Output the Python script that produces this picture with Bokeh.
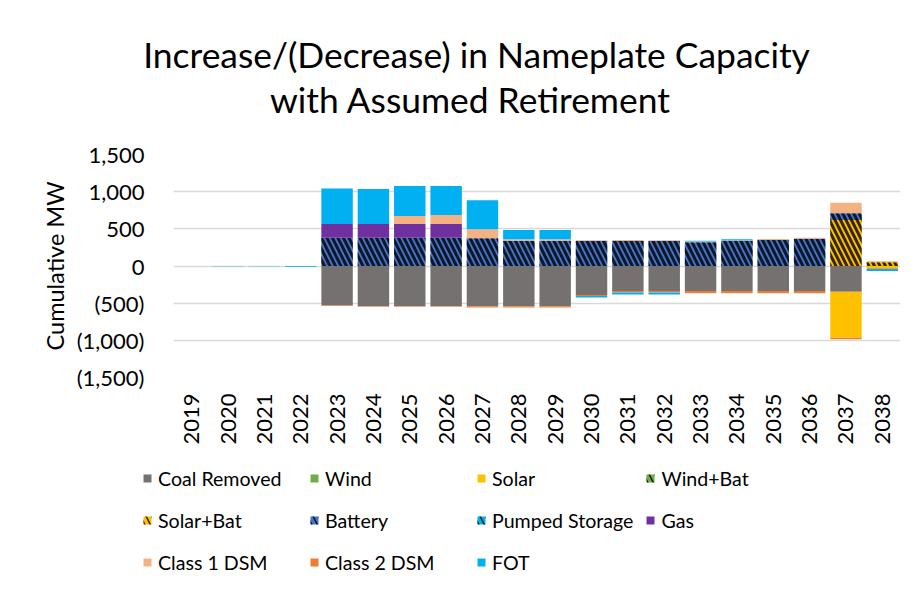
import numpy as np
from bokeh.plotting import figure
from bokeh.models import (ColumnDataSource, FactorRange, FixedTicker, Legend,
                          LegendItem, Label)
from bokeh.embed import file_html
from bokeh.resources import INLINE
import math

# ---------------- data ----------------
years = [str(y) for y in range(2019, 2039)]

coal_removed = [0, 0, 0, 0, -530, -540, -540, -540, -540, -540, -540, -390,
                -336, -336, -336, -336, -336, -336, -345, 0]
wind = [0] * 20
solar = [0] * 18 + [-620, -30]
wind_bat = [0] * 20
solar_bat = [0] * 18 + [618, 50]
battery = [0, 0, 0, 0, 380, 380, 380, 380, 375, 340, 340, 336, 336, 336,
           318, 340, 350, 366, 90, 0]
pumped_storage = [0] * 20
gas = [0, 0, 0, 0, 184, 184, 184, 184, 0, 0, 0, 0, 0, 0, 0, 0, 0, 0, 0, 0]
class1_dsm = [0, 0, 0, 0, 0, 0, 108, 121, 121, 20, 20, 10, 15, 12, 10, 8,
              13, 15, 143, 15]
class2_dsm = [0, 0, 0, 0, -8, -8, -8, -8, -18, -18, -18, -15, -22, -22,
              -30, -30, -30, -30, -20, -12]
fot = [0, -3, -3, -10, 480, 471, 403, 390, 390, 125, 125, -18, -25, -25,
       12, 12, 0, 0, 0, -25]

series_names = ["Coal Removed", "Wind", "Solar", "Wind+Bat", "Solar+Bat",
                "Battery", "Pumped Storage", "Gas", "Class 1 DSM",
                "Class 2 DSM", "FOT"]
series_values = [coal_removed, wind, solar, wind_bat, solar_bat, battery,
                 pumped_storage, gas, class1_dsm, class2_dsm, fot]
series_colors = ["#767171", "#70AD47", "#FFC000", "#70AD47", "#FFC000",
                 "#4472C4", "#00B0F0", "#7030A0", "#F4B183", "#ED7D31",
                 "#00B0F0"]
series_hatched = [False, False, False, True, True, True, True, False, False,
                  False, False]

y_ticks = [-1500, -1000, -500, 0, 500, 1000, 1500]
y_tick_labels = ["(1,500)", "(1,000)", "(500)", "0", "500", "1,000", "1,500"]

title_lines = ["Increase/(Decrease) in Nameplate Capacity",
               "with Assumed Retirement"]
y_label = "Cumulative MW"

FONT = "Lato"
TXT = "#000000"


def bar_style(color, hatched, weight=3.0):
    kw = dict(fill_color=color, line_color=None)
    if hatched:
        kw.update(hatch_pattern="\\", hatch_color="black", hatch_scale=11,
                  hatch_weight=weight, hatch_alpha=0.8)
    return kw


def blank_figure(height, **kw):
    f = figure(width=919, height=height, output_backend="svg",
               toolbar_location=None, x_axis_location=None,
               y_axis_location=None, min_border_left=0, min_border_right=0,
               min_border_top=0, min_border_bottom=0, **kw)
    f.outline_line_color = None
    f.grid.grid_line_color = None
    f.background_fill_color = "white"
    f.border_fill_color = "white"
    return f


# ---------------- title strip ----------------
t = blank_figure(130, x_range=(0, 1), y_range=(0, 1))
for txt, xx, yy in zip(title_lines, [476, 470], [76, 31]):
    t.add_layout(Label(x=xx, y=yy, x_units="screen", y_units="screen",
                       text=txt, text_align="center", text_baseline="middle",
                       text_font=FONT, text_font_size="35.4px",
                       text_color=TXT))

# ---------------- main chart ----------------
p = figure(width=919, height=325, x_range=FactorRange(*years),
           y_range=(-1500, 1500), output_backend="svg",
           toolbar_location=None,
           min_border_left=173, min_border_right=19, min_border_top=24,
           min_border_bottom=78)
p.outline_line_color = None
p.background_fill_color = "white"
p.border_fill_color = "white"

p.xgrid.grid_line_color = None
p.ygrid.grid_line_color = "#d9d9d9"
p.ygrid.grid_line_width = 1.3

p.yaxis.ticker = FixedTicker(ticks=y_ticks)
p.yaxis.major_label_overrides = dict(zip(y_ticks, y_tick_labels))
p.yaxis.axis_line_color = None
p.yaxis.major_tick_line_color = None
p.yaxis.minor_tick_line_color = None
p.yaxis.major_label_text_font = FONT
p.yaxis.major_label_text_font_size = "22px"
p.yaxis.major_label_text_color = TXT
p.yaxis.major_label_standoff = 23
p.yaxis.axis_label = y_label
p.yaxis.axis_label_text_font = FONT
p.yaxis.axis_label_text_font_size = "23.5px"
p.yaxis.axis_label_text_font_style = "normal"
p.yaxis.axis_label_text_color = TXT
p.yaxis.axis_label_standoff = 5

p.xaxis.axis_line_color = None
p.xaxis.major_tick_line_color = None
p.xaxis.minor_tick_line_color = None
p.xaxis.major_label_orientation = math.pi / 2
p.xaxis.major_label_text_font = FONT
p.xaxis.major_label_text_font_size = "22px"
p.xaxis.major_label_text_color = TXT
p.xaxis.major_label_standoff = 10

# stacked bars: positive and negative values stacked separately
n = len(years)
pos = np.zeros(n)
neg = np.zeros(n)
sources = []
for name, vals, color, hatched in zip(series_names, series_values,
                                      series_colors, series_hatched):
    v = np.array(vals, dtype=float)
    bottom = np.where(v >= 0, pos, neg)
    top = bottom + v
    pos = np.where(v >= 0, top, pos)
    neg = np.where(v < 0, top, neg)
    src = ColumnDataSource(dict(x=years, bottom=bottom, top=top))
    sources.append(src)
    p.vbar(x="x", bottom="bottom", top="top", width=0.865, source=src,
           **bar_style(color, hatched))

# ---------------- legend strip ----------------
# legend renderers share the chart's data but sit outside this strip's view
lg = blank_figure(135, x_range=FactorRange(*years), y_range=(90000, 90001))
items = []
for name, color, hatched, src in zip(series_names, series_colors,
                                     series_hatched, sources):
    r = lg.vbar(x="x", bottom="bottom", top="top", width=0.865, source=src,
                **bar_style(color, hatched, weight=1.6))
    items.append(LegendItem(label=name, renderers=[r]))

legend = Legend(items=items, ncols=4, location=(142, 13),
                orientation="horizontal",
                glyph_width=10, glyph_height=10, label_standoff=6,
                label_width=139, label_height=30, spacing=12,
                padding=0, margin=0, border_line_color=None,
                background_fill_alpha=0,
                label_text_font=FONT, label_text_font_size="19.6px",
                label_text_color=TXT)
lg.add_layout(legend, "center")

open("out.html", "w").write(file_html([t, p, lg], INLINE))
